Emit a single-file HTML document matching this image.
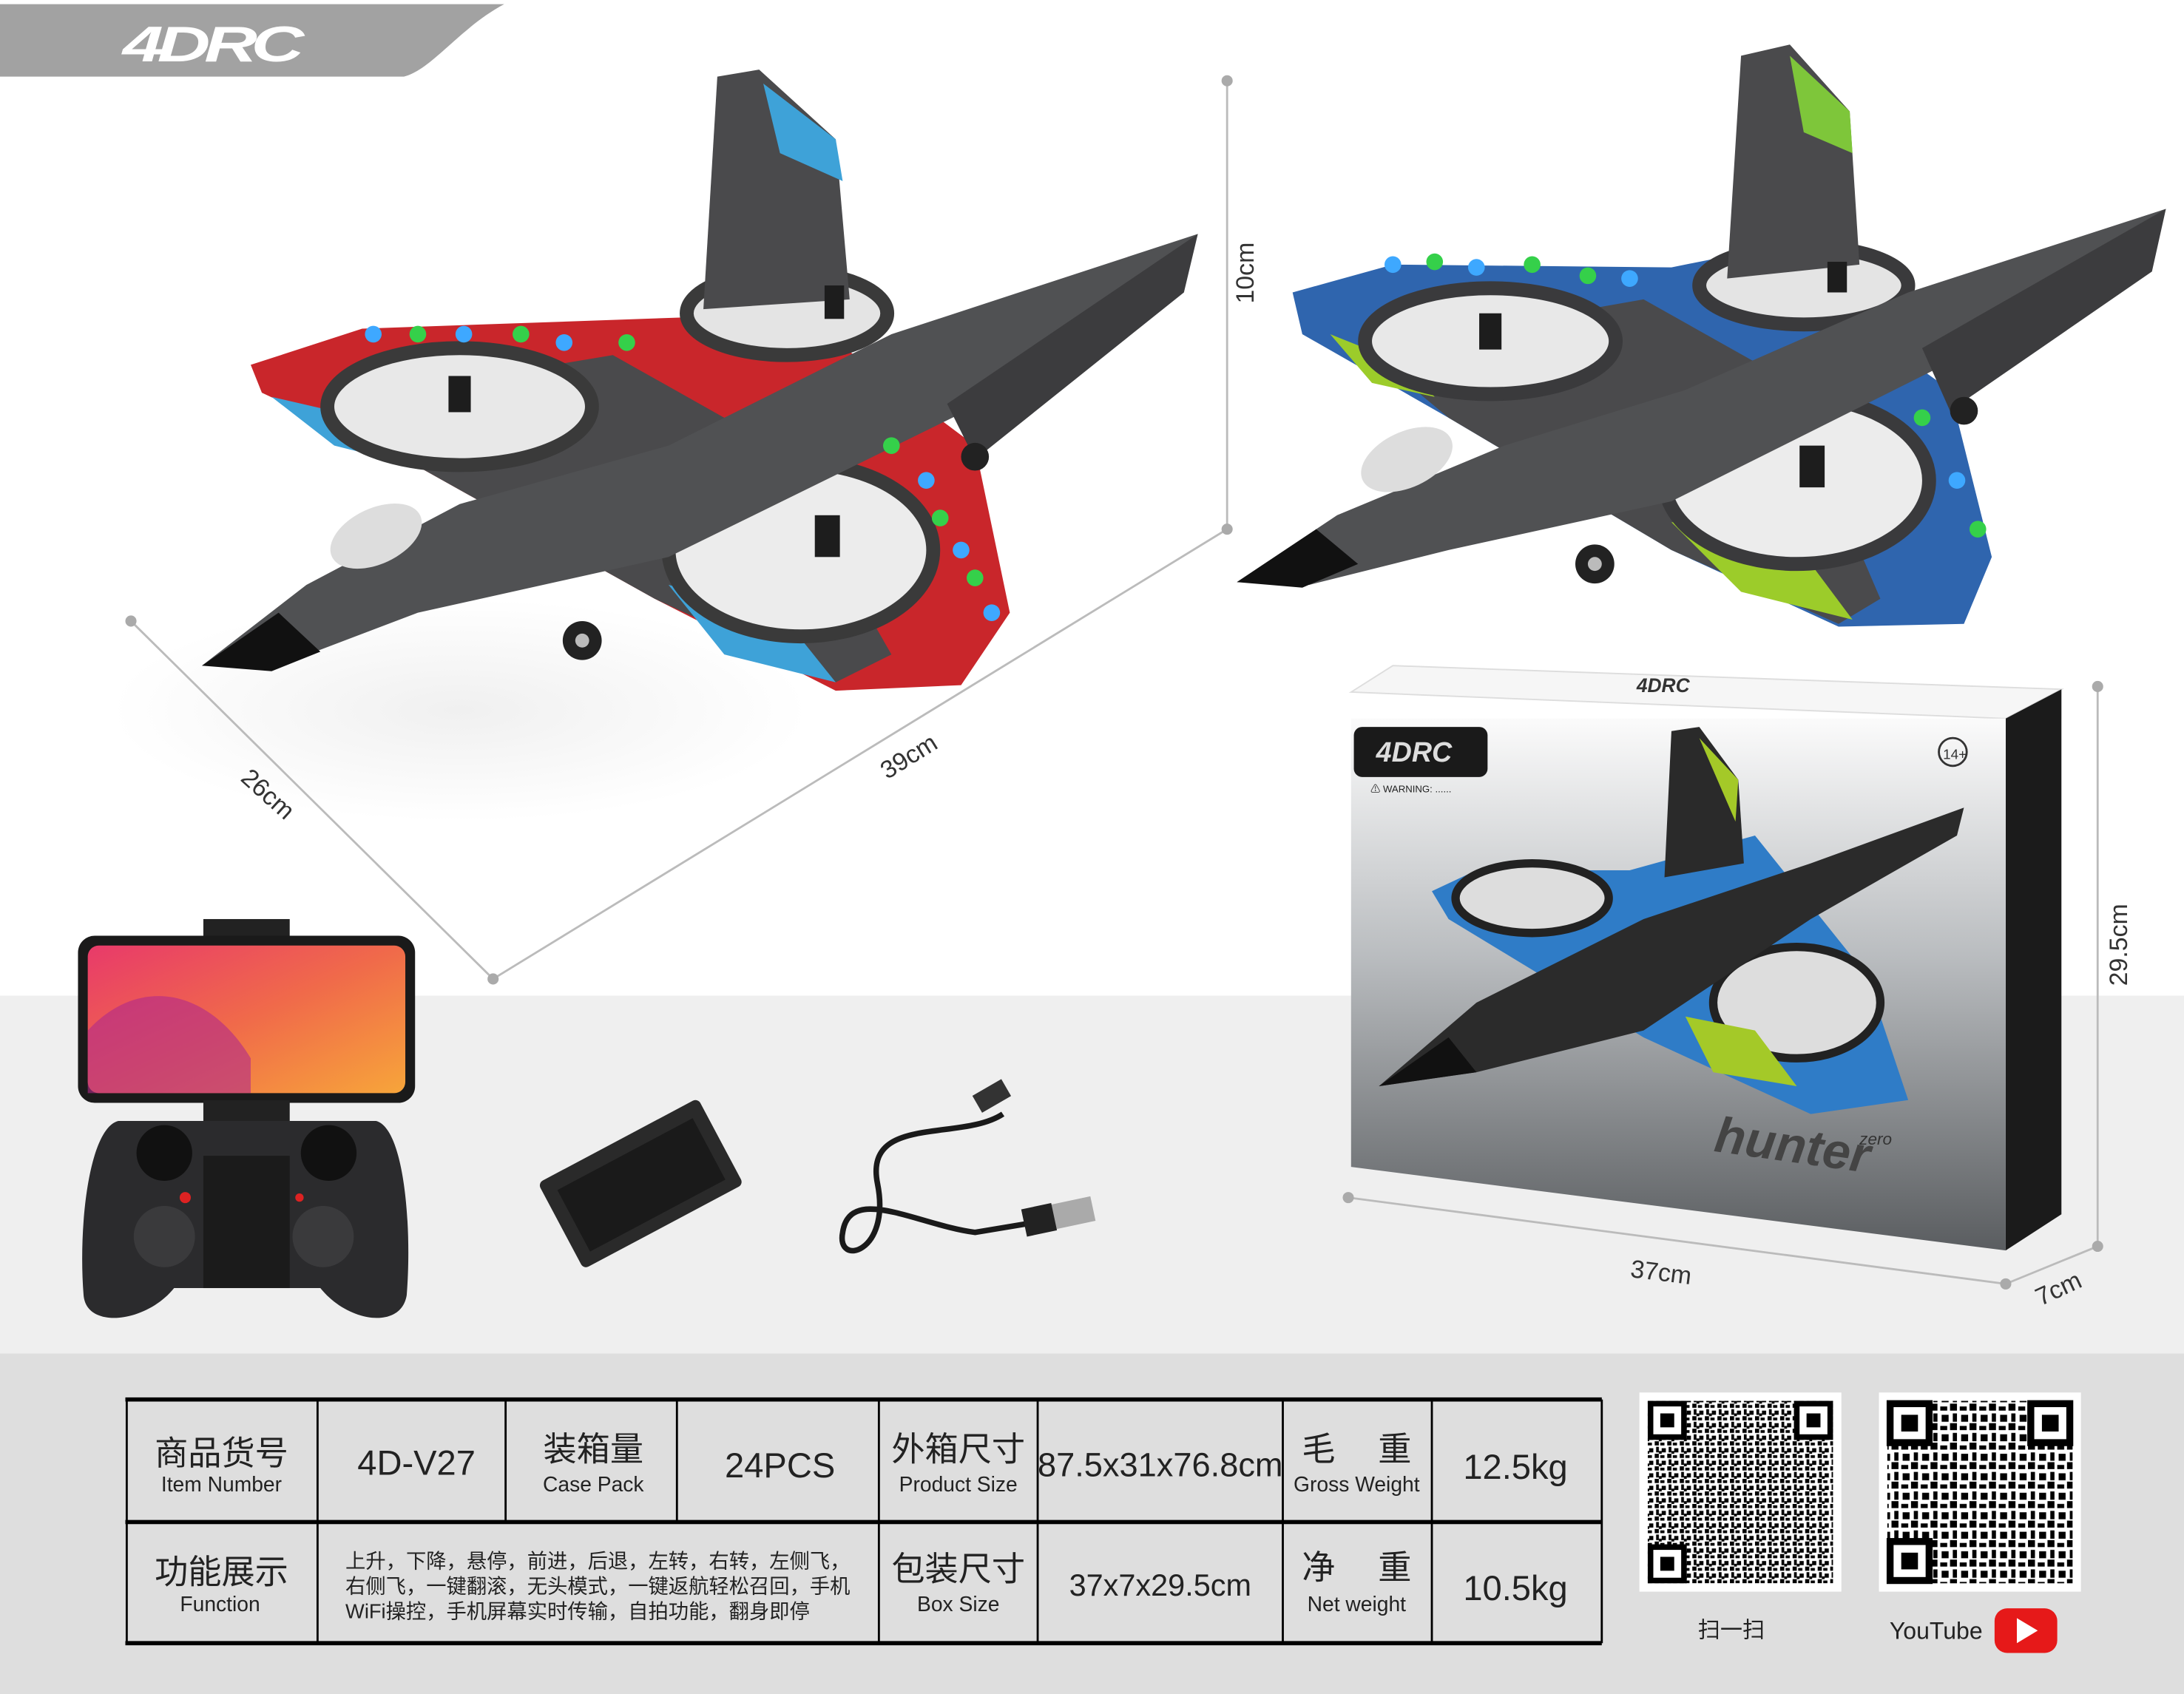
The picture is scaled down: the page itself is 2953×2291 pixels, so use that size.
<!DOCTYPE html>
<html><head><meta charset="utf-8"><style>
html,body{margin:0;padding:0;background:#fff;}
svg{display:block}
text{font-family:"Liberation Sans","Noto Sans CJK SC",sans-serif;}
</style></head><body>
<svg width="2953" height="2291" viewBox="0 0 1568 1216.5" preserveAspectRatio="none" xmlns="http://www.w3.org/2000/svg">
<defs>
<linearGradient id="boxg" x1="0" y1="0" x2="0" y2="1"><stop offset="0" stop-color="#fbfbfb"/><stop offset="0.45" stop-color="#b9bcbf"/><stop offset="1" stop-color="#5a5d60"/></linearGradient>
<linearGradient id="scr" x1="0" y1="0" x2="1" y2="1"><stop offset="0" stop-color="#e83a6a"/><stop offset="0.5" stop-color="#f06a4a"/><stop offset="1" stop-color="#f7a53a"/></linearGradient>
<radialGradient id="shd"><stop offset="0" stop-color="#f0f0f0"/><stop offset="1" stop-color="#ffffff"/></radialGradient>
<pattern id="qr" width="9" height="9" patternUnits="userSpaceOnUse">
<rect width="9" height="9" fill="#fff"/><rect x="0" y="0" width="3" height="3" fill="#000"/><rect x="4" y="1" width="3" height="2" fill="#000"/><rect x="1" y="4" width="2" height="4" fill="#000"/><rect x="5" y="5" width="3" height="3" fill="#000"/><rect x="3" y="7" width="2" height="2" fill="#000"/>
</pattern>
<pattern id="qr2" width="14" height="14" patternUnits="userSpaceOnUse">
<rect width="14" height="14" fill="#fff"/><rect x="0" y="0" width="5" height="5" fill="#000"/><rect x="7" y="2" width="5" height="3" fill="#000"/><rect x="2" y="7" width="3" height="6" fill="#000"/><rect x="8" y="8" width="5" height="5" fill="#000"/>
</pattern>
</defs>
<rect width="1568" height="1216.5" fill="#fff"/>
<rect y="715" width="1568" height="258" fill="#efefef"/>
<rect y="972" width="1568" height="245" fill="#dedede"/>
<ellipse cx="330" cy="510" rx="250" ry="80" fill="url(#shd)"/>
<!-- header -->
<path d="M0 3 H362 C330 20 310 50 290 55 H0 Z" fill="#a2a2a2"/>
<text x="88" y="44" font-size="36" font-weight="bold" font-style="italic" fill="#fff" letter-spacing="-3" textLength="126" lengthAdjust="spacingAndGlyphs">4DRC</text>

<!-- dimension lines -->
<g stroke="#bbb" stroke-width="1.5" fill="#aaa">
<line x1="881" y1="58" x2="881" y2="380"/><line x1="94" y1="446" x2="354" y2="703"/><line x1="354" y1="703" x2="881" y2="380"/>
<circle cx="881" cy="58" r="4" stroke="none"/><circle cx="881" cy="380" r="4" stroke="none"/><circle cx="94" cy="446" r="4" stroke="none"/><circle cx="354" cy="703" r="4" stroke="none"/>
<line x1="1506" y1="493" x2="1506" y2="895"/><line x1="968" y1="860" x2="1440" y2="922"/><line x1="1440" y1="922" x2="1506" y2="895"/>
<circle cx="1506" cy="493" r="4" stroke="none"/><circle cx="1506" cy="895" r="4" stroke="none"/><circle cx="968" cy="860" r="4" stroke="none"/><circle cx="1440" cy="922" r="4" stroke="none"/>
</g>
<text x="0" y="0" font-size="18" fill="#333" transform="translate(900,218) rotate(-90)">10cm</text>
<text x="0" y="0" font-size="18" fill="#333" transform="translate(172,560) rotate(42)">26cm</text>
<text x="0" y="0" font-size="18" fill="#333" transform="translate(637,560) rotate(-32)">39cm</text>
<text x="0" y="0" font-size="18" fill="#333" transform="translate(1527,708) rotate(-90)">29.5cm</text>
<text x="0" y="0" font-size="18" fill="#333" transform="translate(1170,917) rotate(7)">37cm</text>
<text x="0" y="0" font-size="18" fill="#333" transform="translate(1465,938) rotate(-25)">7cm</text>

<!-- red plane -->
<g>
<path d="M180 262 L260 236 L490 228 L560 215 L700 320 L725 440 L690 492 L600 496 L470 430 L300 335 L188 282 Z" fill="#c9262b"/>
<path d="M230 290 L440 255 L520 300 L600 400 L640 470 L600 490 L470 430 L300 335 Z" fill="#4a4a4c"/>
<path d="M195 285 L260 300 L280 330 L240 320 Z" fill="#3ea2d8"/>
<path d="M480 420 L560 440 L600 490 L520 470 Z" fill="#3ea2d8"/>
<ellipse cx="330" cy="292" rx="95" ry="42" fill="#e8e8e8" stroke="#3a3a3a" stroke-width="10"/>
<ellipse cx="575" cy="395" rx="95" ry="62" fill="#ececec" stroke="#3a3a3a" stroke-width="10"/>
<ellipse cx="565" cy="225" rx="72" ry="30" fill="#e4e4e4" stroke="#3a3a3a" stroke-width="10"/>
<path d="M515 55 L545 50 L600 100 L610 215 L505 222 Z" fill="#4a4a4c"/>
<path d="M548 60 L600 100 L605 130 L560 110 Z" fill="#3ea2d8"/>
<path d="M145 478 L220 420 L330 362 L480 320 L640 240 L860 168 L855 182 L700 292 L480 400 L300 440 L200 478 Z" fill="#505153"/>
<path d="M145 478 L200 440 L230 468 L195 482 Z" fill="#111"/>
<ellipse cx="270" cy="385" rx="35" ry="20" fill="#ddd" transform="rotate(-25 270 385)"/>
<path d="M680 290 L860 168 L850 210 L700 330 Z" fill="#3c3c3e"/>
<g fill="#222"><circle cx="418" cy="460" r="14"/><circle cx="700" cy="328" r="10"/></g>
<g fill="#bbb"><circle cx="418" cy="460" r="5"/></g>
<g fill="#1d1d1d"><rect x="322" y="270" width="16" height="26"/><rect x="585" y="370" width="18" height="30"/><rect x="592" y="205" width="14" height="24"/></g>
<g><circle cx="268" cy="240" r="6" fill="#3ea8ff"/><circle cx="300" cy="240" r="6" fill="#35d04a"/><circle cx="333" cy="240" r="6" fill="#3ea8ff"/><circle cx="374" cy="240" r="6" fill="#35d04a"/><circle cx="405" cy="246" r="6" fill="#3ea8ff"/><circle cx="450" cy="246" r="6" fill="#35d04a"/><circle cx="640" cy="320" r="6" fill="#35d04a"/><circle cx="665" cy="345" r="6" fill="#3ea8ff"/><circle cx="675" cy="372" r="6" fill="#35d04a"/><circle cx="690" cy="395" r="6" fill="#3ea8ff"/><circle cx="700" cy="415" r="6" fill="#35d04a"/><circle cx="712" cy="440" r="6" fill="#3ea8ff"/></g>
</g>

<!-- blue plane -->
<g>
<path d="M928 210 L1000 190 L1200 192 L1260 180 L1400 280 L1430 400 L1410 448 L1320 450 L1200 395 L1040 300 L935 240 Z" fill="#2f65ae"/>
<path d="M980 250 L1180 215 L1260 260 L1320 360 L1350 430 L1320 448 L1200 395 L1040 300 Z" fill="#4a4a4c"/>
<path d="M955 240 L1010 262 L1030 285 L985 275 Z" fill="#9ccc2a"/>
<path d="M1200 375 L1280 378 L1330 445 L1250 425 Z" fill="#9ccc2a"/>
<ellipse cx="1070" cy="245" rx="90" ry="38" fill="#e8e8e8" stroke="#3a3a3c" stroke-width="10"/>
<ellipse cx="1290" cy="345" rx="95" ry="60" fill="#ececec" stroke="#3a3a3c" stroke-width="10"/>
<ellipse cx="1295" cy="205" rx="75" ry="28" fill="#e4e4e4" stroke="#3a3a3c" stroke-width="10"/>
<path d="M1250 40 L1285 32 L1328 80 L1335 190 L1240 200 Z" fill="#4a4a4c"/>
<path d="M1285 40 L1328 80 L1330 110 L1295 95 Z" fill="#7ec63a"/>
<path d="M888 418 L960 370 L1080 320 L1210 280 L1370 210 L1555 150 L1550 165 L1400 260 L1200 360 L1040 395 L940 420 Z" fill="#505153"/>
<path d="M888 418 L945 380 L975 405 L935 422 Z" fill="#111"/>
<ellipse cx="1010" cy="330" rx="35" ry="20" fill="#ddd" transform="rotate(-25 1010 330)"/>
<path d="M1380 250 L1555 150 L1545 195 L1400 295 Z" fill="#3c3c3e"/>
<g fill="#222"><circle cx="1145" cy="405" r="14"/><circle cx="1410" cy="295" r="10"/></g>
<g fill="#bbb"><circle cx="1145" cy="405" r="5"/></g>
<g fill="#1d1d1d"><rect x="1062" y="225" width="16" height="26"/><rect x="1292" y="320" width="18" height="30"/><rect x="1312" y="188" width="14" height="22"/></g>
<g><circle cx="1000" cy="190" r="6" fill="#3ea8ff"/><circle cx="1030" cy="188" r="6" fill="#35d04a"/><circle cx="1060" cy="192" r="6" fill="#3ea8ff"/><circle cx="1100" cy="190" r="6" fill="#35d04a"/><circle cx="1140" cy="198" r="6" fill="#35d04a"/><circle cx="1170" cy="200" r="6" fill="#3ea8ff"/><circle cx="1380" cy="300" r="6" fill="#35d04a"/><circle cx="1405" cy="345" r="6" fill="#3ea8ff"/><circle cx="1420" cy="380" r="6" fill="#35d04a"/></g>
</g>

<!-- box -->
<path d="M970 497 L1000 478 L1480 495 L1440 516 Z" fill="#f6f6f6" stroke="#ddd"/>
<text x="1175" y="497" font-size="14" font-weight="bold" font-style="italic" fill="#333">4DRC</text>
<path d="M1440 516 L1480 495 L1480 872 L1440 898 Z" fill="#1b1b1b"/>
<path d="M970 516 L1440 516 L1440 898 L970 838 Z" fill="url(#boxg)"/>
<rect x="972" y="522" width="96" height="36" rx="6" fill="#1a1a1a"/>
<text x="988" y="547" font-size="20" font-weight="bold" font-style="italic" fill="#ddd">4DRC</text>
<text x="984" y="569" font-size="7" fill="#222">⚠ WARNING: ......</text>
<circle cx="1402" cy="540" r="10" fill="none" stroke="#333" stroke-width="1.5"/><text x="1395" y="545" font-size="10" fill="#333">14+</text>
<g>
<path d="M1028 640 L1060 625 L1170 625 L1260 600 L1340 700 L1370 790 L1300 800 L1180 745 L1040 660 Z" fill="#2f7cc7"/>
<path d="M1200 525 L1220 522 L1248 560 L1252 620 L1195 630 Z" fill="#2a2a2a"/>
<path d="M1220 530 L1248 560 L1246 590 Z" fill="#a4c928"/>
<ellipse cx="1100" cy="645" rx="55" ry="25" fill="#ddd" stroke="#222" stroke-width="6"/>
<ellipse cx="1290" cy="720" rx="60" ry="40" fill="#ddd" stroke="#222" stroke-width="6"/>
<path d="M990 780 L1060 720 L1180 660 L1300 620 L1410 580 L1405 600 L1300 660 L1180 740 L1060 770 Z" fill="#2b2b2b"/>
<path d="M990 780 L1040 745 L1060 770 Z" fill="#111"/>
<path d="M1210 730 L1260 740 L1290 780 L1230 770 Z" fill="#a4c928"/>
</g>
<text x="1230" y="835" font-size="36" font-weight="bold" font-style="italic" fill="#444" transform="rotate(8 1290 830)">hunter</text>
<text x="1335" y="822" font-size="12" font-style="italic" fill="#333">zero</text>

<!-- phone -->
<rect x="146" y="660" width="62" height="14" fill="#222"/>
<rect x="56" y="672" width="242" height="120" rx="12" fill="#1a1a1a"/>
<rect x="63" y="679" width="228" height="106" rx="8" fill="url(#scr)"/>
<path d="M63 740 C100 700 150 710 180 760 L180 785 L63 785 Z" fill="#b02a8a" opacity="0.6"/>
<rect x="146" y="790" width="62" height="40" fill="#222"/>
<!-- controller -->
<path d="M85 805 L270 805 C290 810 296 880 292 930 C288 955 250 950 230 925 L125 925 C105 950 62 955 60 930 C56 880 64 810 85 805 Z" fill="#2b2b2d"/>
<circle cx="118" cy="828" r="20" fill="#111"/><circle cx="236" cy="828" r="20" fill="#111"/>
<circle cx="118" cy="888" r="22" fill="#3a3a3c"/><circle cx="232" cy="888" r="22" fill="#3a3a3c"/>
<circle cx="133" cy="860" r="4" fill="#d22"/><circle cx="215" cy="860" r="3" fill="#d22"/>
<rect x="146" y="830" width="62" height="95" fill="#1b1b1b"/>
<!-- battery -->
<g transform="rotate(-28 460 850)"><rect x="395" y="815" width="130" height="70" rx="4" fill="#2a2a2a"/><rect x="405" y="826" width="110" height="50" fill="#1a1a1a"/></g>
<!-- cable -->
<path d="M720 800 C690 820 620 800 630 850 C640 900 600 910 605 885 C610 850 660 880 700 885 L760 875" fill="none" stroke="#1a1a1a" stroke-width="4"/>
<rect x="700" y="780" width="24" height="14" fill="#333" transform="rotate(-30 712 787)"/>
<rect x="755" y="862" width="30" height="18" fill="#aaa" transform="rotate(-12 770 871)"/>
<rect x="735" y="866" width="22" height="20" fill="#222" transform="rotate(-12 746 876)"/>

<!-- table -->
<g stroke="#000" fill="none">
<line x1="90" y1="1005" x2="1150" y2="1005" stroke-width="3"/>
<line x1="90" y1="1093" x2="1150" y2="1093" stroke-width="3"/>
<line x1="90" y1="1180" x2="1150" y2="1180" stroke-width="3"/>
<g stroke-width="1.5">
<line x1="91" y1="1005" x2="91" y2="1180"/><line x1="228" y1="1005" x2="228" y2="1180"/>
<line x1="363" y1="1005" x2="363" y2="1093"/><line x1="486" y1="1005" x2="486" y2="1093"/>
<line x1="631" y1="1005" x2="631" y2="1180"/><line x1="745" y1="1005" x2="745" y2="1180"/>
<line x1="921" y1="1005" x2="921" y2="1180"/><line x1="1028" y1="1005" x2="1028" y2="1180"/>
<line x1="1150" y1="1005" x2="1150" y2="1180"/>
</g></g>
<g fill="#222" text-anchor="middle">
<text x="159" y="1052" font-size="24">商品货号</text><text x="159" y="1071" font-size="15">Item Number</text>
<text x="299" y="1059" font-size="25">4D-V27</text>
<text x="426" y="1049" font-size="24">装箱量</text><text x="426" y="1071" font-size="15">Case Pack</text>
<text x="560" y="1061" font-size="25">24PCS</text>
<text x="688" y="1049" font-size="24">外箱尺寸</text><text x="688" y="1071" font-size="15">Product Size</text>
<text x="833" y="1060" font-size="24">87.5x31x76.8cm</text>
<text x="974" y="1049" font-size="24">毛　 重</text><text x="974" y="1071" font-size="15">Gross Weight</text>
<text x="1088" y="1062" font-size="25">12.5kg</text>
<text x="159" y="1137" font-size="24">功能展示</text><text x="158" y="1157" font-size="15">Function</text>
<text x="688" y="1135" font-size="24">包装尺寸</text><text x="688" y="1157" font-size="15">Box Size</text>
<text x="833" y="1146" font-size="22">37x7x29.5cm</text>
<text x="974" y="1134" font-size="24">净　 重</text><text x="974" y="1157" font-size="15">Net weight</text>
<text x="1088" y="1149" font-size="25">10.5kg</text>
</g>
<g fill="#222" font-size="14.5">
<text x="248" y="1126">上升，下降，悬停，前进，后退，左转，右转，左侧飞，</text>
<text x="248" y="1144">右侧飞，一键翻滚，无头模式，一键返航轻松召回，手机</text>
<text x="248" y="1162">WiFi操控，手机屏幕实时传输，自拍功能，翻身即停</text>
</g>
<!-- QR -->
<rect x="1177" y="1000" width="145" height="143" fill="#fff"/>
<rect x="1183" y="1006" width="133" height="131" fill="url(#qr)"/>
<g fill="#fff" stroke="#000" stroke-width="4"><rect x="1185" y="1008" width="24" height="24"/><rect x="1290" y="1008" width="24" height="24"/><rect x="1185" y="1111" width="24" height="24"/></g>
<rect x="1349" y="1000" width="145" height="143" fill="#fff"/>
<rect x="1355" y="1006" width="133" height="131" fill="url(#qr2)"/>
<g fill="#fff" stroke="#000" stroke-width="5"><rect x="1357" y="1008" width="28" height="28"/><rect x="1458" y="1008" width="28" height="28"/><rect x="1357" y="1107" width="28" height="28"/></g>
<g fill="#000"><rect x="1365" y="1016" width="12" height="12"/><rect x="1466" y="1016" width="12" height="12"/><rect x="1365" y="1115" width="12" height="12"/><rect x="1192" y="1015" width="10" height="10"/><rect x="1297" y="1015" width="10" height="10"/><rect x="1192" y="1118" width="10" height="10"/></g>
<text x="1243" y="1176" font-size="16" fill="#222" text-anchor="middle">扫一扫</text>
<text x="1390" y="1177" font-size="17" fill="#222" text-anchor="middle">YouTube</text>
<rect x="1432" y="1155" width="45" height="32" rx="9" fill="#e61919"/>
<path d="M1448 1162 L1463 1171 L1448 1180 Z" fill="#fff"/>
</svg>
</body></html>
